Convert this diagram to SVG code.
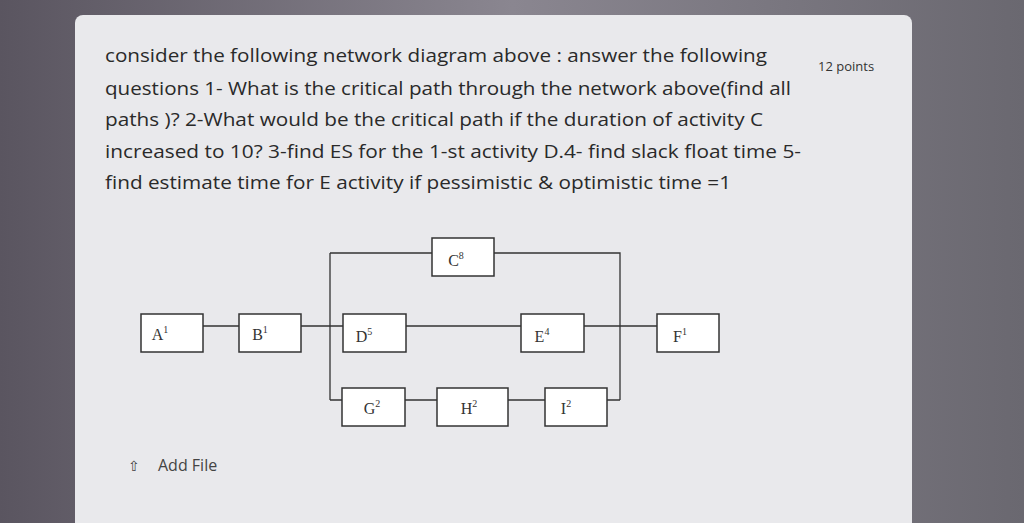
<svg xmlns="http://www.w3.org/2000/svg" width="1024" height="523" viewBox="0 0 1024 523">
<defs>
<linearGradient id="bg" x1="0" y1="0" x2="1" y2="0">
<stop offset="0" stop-color="#5a5560"/><stop offset="0.5" stop-color="#8a8690"/><stop offset="1" stop-color="#6a6870"/>
</linearGradient>
<style>
.q{font-family:"Open Sans","Liberation Sans",sans-serif;font-size:19px;fill:#2a2a2a}
.b{fill:#fff;stroke:#333;stroke-width:1.5}
.l{font-family:"Liberation Serif",serif;font-size:16px;fill:#333;text-anchor:middle}
.c{stroke:#333;stroke-width:1.3;fill:none}
</style>
</defs>
<rect width="1024" height="523" fill="url(#bg)"/>
<rect x="75" y="15" width="837" height="520" rx="8" fill="#e9e9ec"/>
<g id="text">
<text class="q" x="105" y="62" textLength="662" lengthAdjust="spacingAndGlyphs">consider the following network diagram above : answer the following</text>
<text class="q" x="105" y="95" textLength="686" lengthAdjust="spacingAndGlyphs">questions 1- What is the critical path through the network above(find all</text>
<text class="q" x="105" y="126" textLength="658" lengthAdjust="spacingAndGlyphs">paths )? 2-What would be the critical path if the duration of activity C</text>
<text class="q" x="105" y="158" textLength="696" lengthAdjust="spacingAndGlyphs">increased to 10? 3-find ES for the 1-st activity D.4- find slack float time 5-</text>
<text class="q" x="105" y="189" textLength="626" lengthAdjust="spacingAndGlyphs">find estimate time for E activity if pessimistic &amp; optimistic time =1</text>
<text x="818" y="71" font-family="Open Sans, Liberation Sans, sans-serif" font-size="13" fill="#333">12 points</text>
<text x="158" y="471" font-family="Open Sans, Liberation Sans, sans-serif" font-size="16" fill="#444">Add File</text>
<text x="128" y="471" font-family="Liberation Sans, sans-serif" font-size="14" fill="#444">⇧</text>
</g>
<g id="connectors">
<path class="c" d="M203 326H239M301 326H343M330 253V400M330 253H432M494 253H620V400M406 326H521M584 326H657M330 400H342M405 400H437M508 400H545M607 400H620"/>
</g>
<g id="A"><rect class="b" x="141" y="314" width="62" height="38"/><text class="l" x="160" y="340">A<tspan font-size="10" dy="-7">1</tspan></text></g>
<g id="B"><rect class="b" x="239" y="314" width="62" height="38"/><text class="l" x="260" y="340">B<tspan font-size="10" dy="-7">1</tspan></text></g>
<g id="C"><rect class="b" x="432" y="238" width="62" height="38"/><text class="l" x="456" y="266">C<tspan font-size="10" dy="-7">8</tspan></text></g>
<g id="D"><rect class="b" x="343" y="314" width="63" height="38"/><text class="l" x="364" y="342">D<tspan font-size="10" dy="-7">5</tspan></text></g>
<g id="E"><rect class="b" x="521" y="314" width="63" height="38"/><text class="l" x="542" y="342">E<tspan font-size="10" dy="-7">4</tspan></text></g>
<g id="F"><rect class="b" x="657" y="314" width="62" height="38"/><text class="l" x="680" y="342">F<tspan font-size="10" dy="-7">1</tspan></text></g>
<g id="G"><rect class="b" x="342" y="388" width="63" height="38"/><text class="l" x="372" y="414">G<tspan font-size="10" dy="-7">2</tspan></text></g>
<g id="H"><rect class="b" x="437" y="388" width="71" height="38"/><text class="l" x="469" y="414">H<tspan font-size="10" dy="-7">2</tspan></text></g>
<g id="I"><rect class="b" x="545" y="388" width="62" height="38"/><text class="l" x="566" y="414">I<tspan font-size="10" dy="-7">2</tspan></text></g>
</svg>
